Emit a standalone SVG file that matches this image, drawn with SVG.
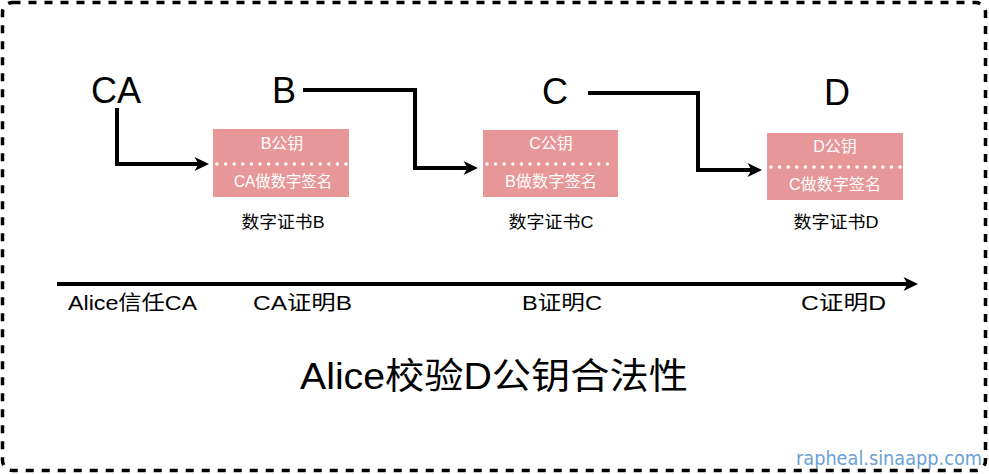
<svg xmlns="http://www.w3.org/2000/svg" width="989" height="474" viewBox="0 0 989 474">
  <style>
    text { font-family: "Liberation Sans", "Noto Sans CJK SC", sans-serif; fill: #000; }
    .big { font-size: 36px; text-anchor: middle; }
    .cert { fill: #e79797; }
    .dots { stroke: #fff; stroke-width: 3.5; stroke-dasharray: 0 8.6; stroke-linecap: round; fill: none; }
    .inbox { font-size: 16px; fill: #fff; text-anchor: middle; }
    .cap { font-size: 17px; text-anchor: middle; }
    .step { font-size: 20px; }
    .conn { stroke: #000; stroke-width: 4; fill: none; stroke-linejoin: miter; }
  </style>
  <defs>
    <marker id="arrow" markerUnits="userSpaceOnUse" viewBox="0 0 16 16" refX="10" refY="8" markerWidth="16" markerHeight="16" orient="auto">
      <path d="M0.5,1 L15,8 L0.5,15 L4.5,8 Z" fill="#000"/>
    </marker>
  </defs>

  <rect x="2.5" y="2.5" width="983" height="468" rx="10" ry="10" fill="#fff" stroke="#000" stroke-width="3.5" stroke-dasharray="8 8"/>

  <g id="node-CA">
    <text class="big" x="116" y="103">CA</text>
  </g>
  <g id="node-B">
    <text class="big" x="284" y="103">B</text>
  </g>
  <g id="node-C">
    <text class="big" x="555" y="104">C</text>
  </g>
  <g id="node-D">
    <text class="big" x="837" y="105">D</text>
  </g>

  <g id="cert-B">
    <rect class="cert" x="213" y="129" width="136" height="68"/>
    <line class="dots" x1="217" y1="164" x2="347" y2="164"/>
    <text class="inbox" x="282" y="149">B公钥</text>
    <text class="inbox" x="283" y="187" textLength="98" lengthAdjust="spacingAndGlyphs">CA做数字签名</text>
    <text class="cap" x="283" y="228" textLength="83" lengthAdjust="spacingAndGlyphs">数字证书B</text>
  </g>
  <g id="cert-C">
    <rect class="cert" x="483" y="130" width="135" height="67"/>
    <line class="dots" x1="487" y1="164" x2="616" y2="164"/>
    <text class="inbox" x="551" y="149">C公钥</text>
    <text class="inbox" x="551" y="187" textLength="92" lengthAdjust="spacingAndGlyphs">B做数字签名</text>
    <text class="cap" x="551" y="228" textLength="85" lengthAdjust="spacingAndGlyphs">数字证书C</text>
  </g>
  <g id="cert-D">
    <rect class="cert" x="767" y="133" width="136" height="67"/>
    <line class="dots" x1="771" y1="167" x2="901" y2="167"/>
    <text class="inbox" x="835" y="152">D公钥</text>
    <text class="inbox" x="835" y="190" textLength="92" lengthAdjust="spacingAndGlyphs">C做数字签名</text>
    <text class="cap" x="836" y="228" textLength="85" lengthAdjust="spacingAndGlyphs">数字证书D</text>
  </g>

  <g id="connectors">
    <path class="conn" d="M117,108 V164 H204" marker-end="url(#arrow)"/>
    <path class="conn" d="M303,90 H415 V168 H473" marker-end="url(#arrow)"/>
    <path class="conn" d="M588,93 H698 V170 H757" marker-end="url(#arrow)"/>
    <path class="conn" d="M57,284 H913" marker-end="url(#arrow)"/>
  </g>

  <g id="timeline-labels">
    <text class="step" x="68" y="310" textLength="129" lengthAdjust="spacingAndGlyphs">Alice信任CA</text>
    <text class="step" x="253" y="310" textLength="99" lengthAdjust="spacingAndGlyphs">CA证明B</text>
    <text class="step" x="522" y="310" textLength="80" lengthAdjust="spacingAndGlyphs">B证明C</text>
    <text class="step" x="801" y="310" textLength="85" lengthAdjust="spacingAndGlyphs">C证明D</text>
  </g>

  <g id="title">
    <text x="300" y="389" font-size="36" textLength="388" lengthAdjust="spacingAndGlyphs">Alice校验D公钥合法性</text>
  </g>

  <text x="796" y="465" font-size="20" style="fill:#6b9fd2;font-family:'DejaVu Sans','Open Sans',sans-serif" textLength="186" lengthAdjust="spacingAndGlyphs">rapheal.sinaapp.com</text>
</svg>
